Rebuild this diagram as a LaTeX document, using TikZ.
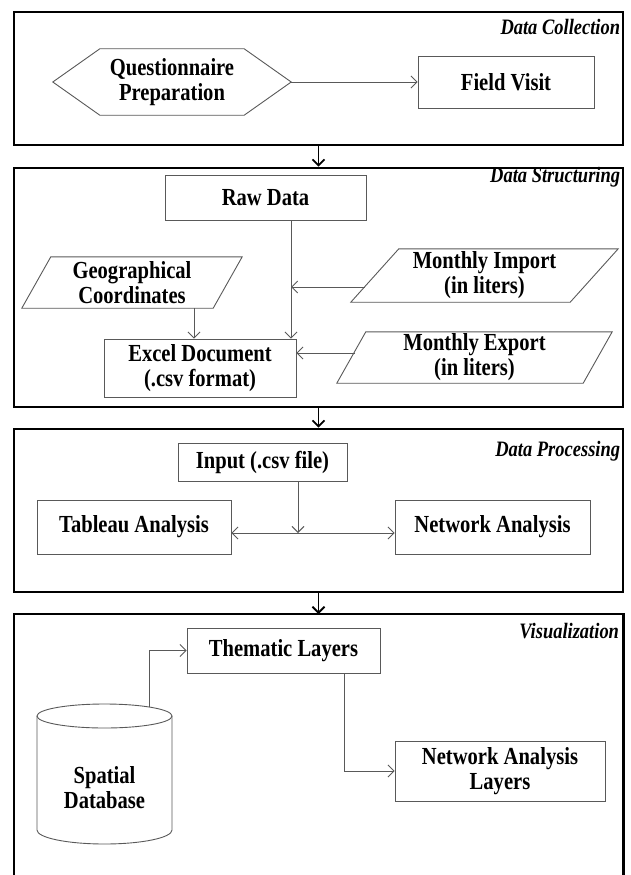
\documentclass[tikz,border=0pt]{standalone}
\usepackage{fontspec}
\setmainfont{Liberation Serif}[FakeStretch=0.84]
\usetikzlibrary{arrows.meta,calc}
\begin{document}
\begin{tikzpicture}[x=1pt,y=-1pt,
  panel/.style={draw=black, line width=2.6pt, minimum width=609pt, inner sep=0pt},
  panelline/.style={draw=black, line width=2.6pt},
  ghost/.style={draw=none, font=\bfseries\fontsize{24.5}{25}\selectfont, align=center, inner sep=0pt},
  box/.style={ghost, draw=black!65, line width=0.9pt},
  shapeline/.style={draw=black!65, line width=0.9pt},
  lbl/.style={font=\bfseries\itshape\fontsize{22}{22}\selectfont, anchor=east, inner sep=0pt},
  con/.style={draw=black!65, line width=0.9pt, -{Straight Barb[length=6pt,width=12pt]}},
  parrow/.style={draw=black, line width=1.8pt, -{Straight Barb[length=6pt,width=12pt]}}
]
\useasboundingbox (0,0) rectangle (630,875);

% ---------- panels ----------
\node[panel, minimum height=133pt] (p1) at (318.5,78.5) {};
\node[panel, minimum height=239pt] (p2) at (318.5,287.5) {};
\node[panel, minimum height=163pt] (p3) at (318.5,510.5) {};
\node[draw=none, minimum width=609pt, minimum height=280pt, inner sep=0pt, anchor=north] (p4) at (318.5,614) {};
\draw[panelline] (p4.south west) -- (p4.north west) -- (p4.north east) -- (p4.south east);

\node[lbl] at ([shift={(-4pt,-16pt)}]p1.north east) {Data Collection};
\node[lbl] at ([shift={(-4pt,-11pt)}]p2.north east) {Data Structuring};
\node[lbl] at ([shift={(-4pt,-24pt)}]p3.north east) {Data Processing};
\node[lbl] at ([shift={(-4pt,-17pt)}]p4.north east) {Visualization};

\draw[parrow] (p1.south) -- (p2.north);
\draw[parrow] (p2.south) -- (p3.north);
\draw[parrow] (p3.south) -- (p4.north);

% ---------- Data Collection ----------
\node[ghost, minimum width=238pt, minimum height=66pt] (hex) at (172,82) {Questionnaire\\Preparation};
\draw[shapeline] (hex.west) -- ([xshift=47pt]hex.north west) -- ([xshift=-47pt]hex.north east)
  -- (hex.east) -- ([xshift=-47pt]hex.south east) -- ([xshift=47pt]hex.south west) -- cycle;
\node[box, minimum width=176pt, minimum height=52pt] (fv) at (506,82) {Field Visit};
\draw[con] (hex.east) -- (fv.west);

% ---------- Data Structuring ----------
\node[box, minimum width=201pt, minimum height=45pt] (raw) at (265.5,197.5) {Raw Data};
\node[ghost, minimum width=220pt, minimum height=51pt] (gc) at (132,282.5) {Geographical\\Coordinates};
\draw[shapeline] (gc.south west) -- ([xshift=29pt]gc.north west) -- (gc.north east) -- ([xshift=-29pt]gc.south east) -- cycle;
\node[ghost, minimum width=267pt, minimum height=53pt] (mi) at (484.5,275.5) {Monthly Import\\(in liters)};
\draw[shapeline] (mi.south west) -- ([xshift=48pt]mi.north west) -- (mi.north east) -- ([xshift=-48pt]mi.south east) -- cycle;
\node[ghost, minimum width=275pt, minimum height=51pt] (me) at (474.5,357.5) {Monthly Export\\(in liters)};
\draw[shapeline] (me.south west) -- ([xshift=29pt]me.north west) -- (me.north east) -- ([xshift=-29pt]me.south east) -- cycle;
\node[box, minimum width=192pt, minimum height=58pt] (xl) at (200,368) {Excel Document\\(.csv format)};

\coordinate (rj) at (291,287);
\coordinate (mis) at (365,287);
\coordinate (mes) at (355,353);
\coordinate (gx) at (194,0);
\draw[con] (raw.south -| rj) -- (xl.north -| rj);
\draw[con] (mis) -- (rj);
\draw[con] (mes) -- (xl.east |- mes);
\draw[con] (gc.south -| gx) -- (xl.north -| gx);

% ---------- Data Processing ----------
\node[box, minimum width=169pt, minimum height=38pt] (inp) at (262.5,462) {Input (.csv file)};
\node[box, minimum width=194pt, minimum height=54pt] (tab) at (134,527) {Tableau Analysis};
\node[box, minimum width=195pt, minimum height=54pt] (na) at (492.5,527) {Network Analysis};
\coordinate (pj) at (298,533);
\draw[con] (inp.south -| pj) -- (pj);
\draw[con] (pj) -- (tab.east |- pj);
\draw[con] (pj) -- (na.west |- pj);

% ---------- Visualization ----------
\node[box, minimum width=193pt, minimum height=45pt] (thm) at (283.5,650.5) {Thematic Layers};
\node[box, minimum width=210pt, minimum height=60pt] (nal) at (500,771) {Network Analysis\\Layers};
\draw[shapeline] (37,716) -- (37,830) arc[start angle=180, end angle=360, x radius=67.5pt, y radius=14pt] -- (172,716);
\draw[shapeline] (104.5,716) ellipse [x radius=67.5pt, y radius=12pt];
\node[ghost] (sdb) at (104.5,788) {Spatial\\Database};
\coordinate (cyt) at (149,707);
\coordinate (tx) at (344,0);
\draw[con] (cyt) |- (thm.west);
\draw[con] (thm.south -| tx) |- (nal.west);
\end{tikzpicture}
\end{document}
